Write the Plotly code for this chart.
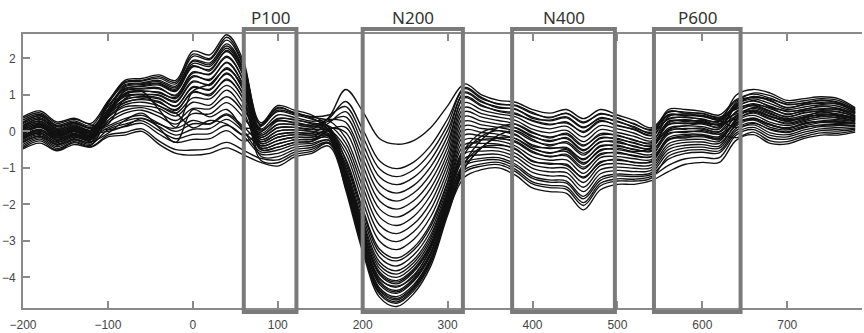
import plotly.graph_objects as go

# time axis (ms)
time_ms = [-200, -180, -160, -140, -120, -100, -80, -60, -40, -20, 0, 20, 40, 60,
           80, 100, 120, 140, 160, 180, 200, 220, 240, 260, 280, 300,
           320, 340, 360, 380, 400, 420, 440, 460, 480, 500, 520, 540,
           560, 580, 600, 620, 640, 660, 680, 700, 720, 740, 760, 780]

# channel amplitudes (microvolts)
ch01 = [-0.03,0.15,-0.13,0.03,-0.1, 0.75,1.4,1.45,1.55,1.4,2.2,2.1,2.65,1.9, -0.16,0.1,0.11,0.06, 0.38, 1.15,0.55,-0.2,-0.35,-0.25,0.1,0.7, 1.3,1.0,0.85,0.8,0.6,0.5,0.6,0.35,0.6,0.45,0.3,0.1, 0.52,0.53,0.48,0.39, 0.61,0.76,0.62,0.48,0.56,0.62,0.59,0.44]
ch02 = [0.07,0.24,-0.04,0.1,-0.03, 0.8,1.33,1.38,1.46,1.3,2.06,1.97,2.5,1.77, -0.05,0.28,0.25,0.17, 0.35, 0.82,0.06,-0.81,-1.02,-0.84,-0.39,0.34, 1.17,0.9,0.76,0.7,0.49,0.39,0.49,0.23,0.49,0.36,0.21,0.03, 0.43,0.45,0.41,0.32, 0.74,0.89,0.76,0.6,0.67,0.73,0.69,0.51]
ch03 = [-0.12,0.06,-0.21,-0.05,-0.17, 0.6,1.25,1.31,1.36,1.2,1.92,1.83,2.34,1.65, -0.28,-0.08,-0.03,-0.05, 0.23, 0.54,-0.34,-1.25,-1.46,-1.26,-0.78,0.03, 1.05,0.8,0.67,0.6,0.39,0.29,0.37,0.1,0.38,0.26,0.13,-0.05, 0.6,0.6,0.55,0.45, 0.87,1.02,0.91,0.73,0.79,0.84,0.8,0.58]
ch04 = [0.17,0.33,0.05,0.18,0.04, 0.7,1.18,1.23,1.27,1.1,1.77,1.7,2.19,1.52, 0.07,0.45,0.38,0.28, 0.33, 0.25,-0.73,-1.69,-1.91,-1.69,-1.17,-0.29, 0.92,0.69,0.57,0.5,0.28,0.18,0.26,-0.03,0.27,0.17,0.04,-0.12, 0.35,0.38,0.34,0.26, 1.0,1.15,1.05,0.85,0.9,0.95,0.9,0.65]
ch05 = [-0.22,-0.03,-0.3,-0.13,-0.24, 0.5,1.1,1.16,1.17,1.0,1.63,1.56,2.03,1.39, -0.39,-0.25,-0.16,-0.16, 0.08, -0.03,-1.13,-2.13,-2.35,-2.11,-1.56,-0.6, 0.79,0.59,0.48,0.4,0.17,0.07,0.14,-0.15,0.16,0.07,-0.05,-0.19, 0.46,0.42,0.44,0.3, 0.48,0.63,0.47,0.35,0.44,0.51,0.48,0.37]
ch06 = [0.26,0.42,0.13,0.25,0.11, 0.6,1.03,1.09,1.08,0.9,1.49,1.43,1.88,1.26, 0.19,0.63,0.52,0.39, 0.3, -0.18,-1.33,-2.35,-2.58,-2.33,-1.75,-0.75, 0.66,0.49,0.39,0.3,0.06,-0.04,0.03,-0.28,0.05,-0.03,-0.14,-0.26, 0.26,0.3,0.27,0.19, 0.35,0.5,0.33,0.23,0.33,0.4,0.38,0.3]
ch07 = [0.02,0.2,-0.08,0.06,-0.07, 0.55,0.95,1.02,0.98,0.8,1.35,1.29,1.72,1.14, -0.1,0.19,0.18,0.12, 0.15, -0.32,-1.52,-2.57,-2.8,-2.54,-1.95,-0.9, 0.54,0.39,0.3,0.2,-0.05,-0.15,-0.09,-0.4,-0.06,-0.12,-0.23,-0.34, 0.18,0.23,0.2,0.13, 0.68,0.83,0.69,0.54,0.61,0.68,0.64,0.48]
ch08 = [-0.07,0.11,-0.17,-0.01,-0.14, 0.5,0.88,0.94,0.89,0.7,1.2,1.16,1.57,1.01, -0.22,0.01,0.04,0.0, 0.05, -0.46,-1.72,-2.79,-3.02,-2.75,-2.14,-1.06, 0.41,0.28,0.2,0.1,-0.15,-0.25,-0.2,-0.53,-0.17,-0.22,-0.31,-0.41, 0.09,0.15,0.13,0.06, 0.7,0.96,0.83,0.66,0.73,0.79,0.74,0.55]
ch09 = [0.12,0.29,0.0,0.14,0.0, 0.45,0.8,0.87,0.79,0.6,1.06,1.02,1.41,0.88, -0.33,-0.16,-0.09,-0.1, 0.0, -0.6,-1.92,-3.01,-3.24,-2.96,-2.34,-1.22, 0.28,0.18,0.11,0.0,-0.26,-0.36,-0.32,-0.65,-0.28,-0.31,-0.4,-0.48, 0.28,0.27,0.3,0.17, 0.42,0.57,0.4,0.29,0.38,0.46,0.43,0.34]
ch10 = [-0.17,0.02,-0.25,-0.09,-0.2, 0.4,0.73,0.8,0.7,0.5,0.92,0.89,1.26,0.75, -0.45,-0.34,-0.23,-0.22, -0.08, -0.75,-2.12,-3.23,-3.47,-3.18,-2.53,-1.37, 0.15,0.08,0.02,-0.1,-0.37,-0.47,-0.44,-0.78,-0.39,-0.41,-0.49,-0.55, 0.0,0.08,0.06,0.0, 0.55,0.7,0.54,0.41,0.5,0.57,0.53,0.41]
ch11 = [0.36,0.51,0.22,0.33,0.18, 0.05,0.15,0.35,0.2,0.1,1.1,1.3,1.7,1.2, 0.01,0.36,0.31,0.23, 0.12, -0.8,-2.19,-3.32,-3.55,-3.26,-2.61,-1.43, 0.03,-0.03,-0.08,-0.2,-0.48,-0.58,-0.55,-0.9,-0.5,-0.5,-0.58,-0.63, -0.08,0.0,-0.01,-0.07, 0.22,0.37,0.18,0.1,0.21,0.29,0.27,0.23]
ch12 = [-0.31,-0.12,-0.38,-0.2,-0.31, 0.3,0.58,0.65,0.51,0.3,0.63,0.62,0.95,0.5, -0.5,-0.43,-0.3,-0.27, -0.13, -0.89,-2.31,-3.45,-3.69,-3.39,-2.73,-1.53, -0.1,-0.13,-0.17,-0.3,-0.58,-0.68,-0.67,-1.03,-0.61,-0.6,-0.66,-0.7, -0.22,-0.12,-0.1,-0.18, 0.32,0.53,0.35,0.2,0.3,0.42,0.36,0.29]
ch13 = [0.0,0.12,-0.1,0.05,-0.08, 0.25,0.5,0.58,0.41,0.2,0.49,0.48,0.79,0.37, -0.16,0.1,0.11,0.06, 0.01, -0.97,-2.43,-3.58,-3.82,-3.52,-2.84,-1.62, -0.23,-0.23,-0.26,-0.4,-0.69,-0.79,-0.78,-1.15,-0.72,-0.69,-0.75,-0.77, -0.17,-0.08,-0.08,-0.14, 0.44,0.55,0.42,0.31,0.36,0.48,0.41,0.35]
ch14 = [0.21,0.38,0.09,0.21,0.08, 0.2,0.9,1.0,0.7,0.5,0.1,0.3,0.2,-0.1, 0.13,0.54,0.45,0.34, 0.13, -1.03,-2.51,-3.67,-3.91,-3.6,-2.92,-1.68, -0.36,-0.33,-0.35,-0.5,-0.8,-0.9,-0.9,-1.28,-0.83,-0.79,-0.84,-0.84, -0.25,-0.15,-0.15,-0.2, 0.29,0.44,0.25,0.16,0.27,0.35,0.32,0.27]
ch15 = [0.1,0.22,-0.02,0.08,0.0, 0.15,0.35,0.44,0.22,0.0,0.21,0.21,0.48,0.12, -0.28,-0.08,-0.03,-0.05, -0.06, -1.09,-2.59,-3.76,-4.0,-3.69,-3.0,-1.74, -0.49,-0.44,-0.45,-0.6,-0.91,-1.0,-1.01,-1.4,-0.94,-0.88,-0.93,-0.92, -0.34,-0.23,-0.22,-0.27, 0.35,0.66,0.5,0.33,0.4,0.54,0.45,0.38]
ch16 = [-0.15,0.04,-0.18,-0.07,-0.15, 0.1,0.28,0.36,0.13,-0.1,0.06,0.08,0.33,-0.01, -0.39,-0.25,-0.16,-0.16, -0.13, -1.17,-2.71,-3.89,-4.13,-3.81,-3.12,-1.84, -0.61,-0.54,-0.54,-0.7,-1.01,-1.11,-1.13,-1.53,-1.05,-0.98,-1.01,-0.99, -0.42,-0.3,-0.29,-0.33, 0.16,0.31,0.11,0.04,0.15,0.24,0.22,0.2]
ch17 = [-0.36,-0.17,-0.42,-0.24,-0.35, 0.05,0.2,0.29,0.03,-0.2,-0.08,-0.06,0.17,-0.14, -0.62,-0.6,-0.43,-0.38, -0.24, -1.26,-2.83,-4.02,-4.27,-3.94,-3.23,-1.93, -0.74,-0.64,-0.63,-0.8,-1.12,-1.22,-1.24,-1.65,-1.16,-1.07,-1.1,-1.06, -0.5,-0.38,-0.36,-0.4, 0.2,0.33,0.17,0.08,0.2,0.27,0.25,0.22]
ch18 = [0.05,0.18,-0.06,0.04,-0.05, 0.0,0.13,0.22,-0.07,-0.3,-0.22,-0.2,0.02,-0.27, -0.02,0.3,0.22,0.15, 0.0, -1.32,-2.9,-4.11,-4.36,-4.03,-3.31,-1.99, -0.87,-0.74,-0.72,-0.9,-1.23,-1.33,-1.36,-1.78,-1.27,-1.17,-1.19,-1.13, -0.59,-0.45,-0.43,-0.46, 0.09,0.24,0.04,-0.03,0.1,0.18,0.17,0.16]
ch19 = [-0.26,-0.08,-0.34,-0.16,-0.28, -0.05,0.3,0.5,0.1,-0.3,0.6,0.4,0.6,0.0, -0.56,-0.51,-0.36,-0.33, -0.24, -1.37,-2.98,-4.2,-4.44,-4.11,-3.39,-2.05, -0.94,-0.8,-0.78,-0.96,-1.29,-1.39,-1.42,-1.85,-1.34,-1.22,-1.24,-1.18, -0.76,-0.6,-0.57,-0.59, -0.04,0.11,-0.11,-0.15,-0.02,0.07,0.06,0.09]
ch20 = [-0.45,-0.26,-0.51,-0.31,-0.42, -0.1,-0.03,0.07,-0.26,-0.5,-0.51,-0.47,-0.3,-0.52, -0.74,-0.78,-0.57,-0.49, -0.33, -1.46,-3.1,-4.33,-4.58,-4.24,-3.5,-2.15, -1.05,-0.89,-0.85,-1.04,-1.38,-1.48,-1.52,-1.95,-1.42,-1.3,-1.31,-1.23, -0.93,-0.75,-0.71,-0.72, -0.1,0.05,-0.18,-0.21,-0.08,0.02,0.01,0.06]
ch21 = [-0.48,-0.32,-0.53,-0.36,-0.43, -0.15,-0.1,0.0,-0.35,-0.6,-0.65,-0.6,-0.45,-0.65, -0.85,-0.95,-0.7,-0.6, -0.4, -1.54,-3.22,-4.46,-4.71,-4.37,-3.62,-2.24, -1.25,-1.05,-1.0,-1.2,-1.55,-1.65,-1.7,-2.15,-1.6,-1.45,-1.45,-1.35, -1.1,-0.9,-0.85,-0.85, -0.24,-0.09,-0.33,-0.34,-0.19,-0.1,-0.1,-0.02]
ch22 = [0.31,0.47,0.17,0.29,0.15, 0.78,1.28,1.33,1.4,1.24,1.95,1.88,2.4,1.7, 0.24,0.71,0.58,0.45, 0.1, -1.49,-3.14,-4.37,-4.62,-4.28,-3.54,-2.18, -1.0,-0.45,-0.1,0.02,-0.22,-0.4,-0.28,-0.6,-0.3,-0.27,-0.42,-0.45, 0.2,0.21,0.24,0.1, 0.75,0.95,0.88,0.75,0.77,0.86,0.78,0.6]
ch23 = [0.15,0.35,0.07,0.16,0.02, 0.68,1.15,1.25,1.3,1.12,1.8,1.66,2.22,1.5, -0.22,0.01,0.04,0.0, -0.13, -1.6,-3.3,-4.55,-4.8,-4.45,-3.7,-2.3, -1.12,-0.95,-0.91,-1.1,-1.44,-1.54,-1.59,-2.03,-1.49,-1.36,-1.36,-1.28, -0.68,-0.53,-0.5,-0.53, 0.03,0.18,-0.04,-0.09,0.04,0.13,0.11,0.13]
ch24 = [-0.2,-0.05,-0.28,-0.12,-0.22, 0.45,1.05,1.12,1.05,0.93,1.52,1.4,1.9,1.22, -0.68,-0.69,-0.5,-0.44, -0.3, -1.43,-3.06,-4.29,-4.53,-4.2,-3.47,-2.11, -1.0,-0.44,-0.17,-0.2,-0.45,-0.6,-0.5,-0.86,-0.53,-0.46,-0.55,-0.45, 0.05,0.15,0.22,0.2, 0.8,1.05,0.98,0.79,0.84,0.9,0.85,0.62]
ch25 = [0.4,0.56,0.26,0.36,0.22, 0.83,1.36,1.4,1.5,1.35,2.12,2.0,2.58,1.82, 0.16,0.58,0.48,0.36, 0.04, -1.51,-3.18,-4.42,-4.67,-4.32,-3.58,-2.21, -0.87,-0.23,0.11,0.2,-0.02,-0.18,-0.05,-0.37,-0.1,-0.1,-0.25,-0.3, 0.4,0.48,0.42,0.35, 0.63,0.73,0.65,0.46,0.58,0.6,0.61,0.42]
ch26 = [-0.09,0.13,-0.15,0.0,-0.12, 0.48,0.78,0.9,0.82,0.57,1.1,0.98,1.44,0.85, -0.79,-0.86,-0.63,-0.55, -0.32, -1.22,-2.86,-4.05,-4.24,-3.98,-3.2,-1.9, -0.61,-0.13,0.02,-0.08,-0.4,-0.45,-0.47,-0.75,-0.42,-0.38,-0.5,-0.52, -0.05,-0.03,0.02,-0.09, -0.17,-0.02,-0.26,-0.28,-0.14,-0.04,-0.05,0.02]
ch27 = [-0.41,-0.21,-0.47,-0.28,-0.38, 0.4,1.12,1.18,1.2,0.97,1.6,1.58,2.06,1.36, -0.5,-0.43,-0.3,-0.27, 0.05, 0.11,-0.93,-1.91,-2.13,-1.9,-1.36,-0.44, 0.95,0.72,0.55,0.47,0.3,0.2,0.23,0.0,0.3,0.15,0.06,-0.1, 0.55,0.5,0.5,0.37, 0.84,0.93,0.85,0.64,0.75,0.77,0.76,0.53]
ch28 = [0.14,0.27,0.02,0.12,-0.02, 0.53,0.98,1.0,1.0,0.83,1.38,1.26,1.75,1.1, -0.33,-0.16,-0.09,-0.1, -0.1, -1.14,-2.67,-3.85,-4.09,-3.77,-3.08,-1.8, -0.49,-0.23,-0.2,-0.27,-0.55,-0.7,-0.63,-0.98,-0.64,-0.57,-0.68,-0.68, 0.03,0.06,0.09,-0.02, 0.4,0.59,0.42,0.27,0.4,0.44,0.45,0.32]
ch29 = [-0.05,0.17,-0.11,0.01,-0.12, 0.38,0.67,0.7,0.63,0.42,0.8,0.72,1.13,0.6, -0.1,0.19,0.18,0.12, 0.28, 0.4,-0.53,-1.47,-1.69,-1.48,-0.97,-0.13, 1.08,0.83,0.64,0.62,0.36,0.31,0.4,0.12,0.35,0.28,0.1,-0.02, 0.33,0.4,0.32,0.28, 0.66,0.85,0.67,0.56,0.6,0.7,0.62,0.5]
ch30 = [-0.19,0.0,-0.23,-0.1,-0.18, 0.5,1.22,1.28,1.32,1.16,1.86,1.78,2.28,1.59, -0.45,-0.34,-0.23,-0.22, -0.18, -1.34,-2.94,-4.15,-4.4,-4.07,-3.35,-2.02, -0.87,-0.44,-0.38,-0.47,-0.83,-0.87,-0.94,-1.25,-0.86,-0.76,-0.86,-0.81, -0.22,-0.18,-0.12,-0.23, 0.25,0.35,0.2,0.08,0.23,0.27,0.29,0.21]
ch31 = [0.24,0.44,0.15,0.23,0.09, 0.52,0.86,0.96,0.92,0.68,1.23,1.13,1.6,0.98, 0.04,0.34,0.33,0.2, 0.05, -1.2,-2.75,-3.93,-4.18,-3.85,-3.15,-1.87, -0.49,-0.03,0.11,0.1,-0.12,-0.28,-0.17,-0.5,-0.2,-0.19,-0.33,-0.38, 0.24,0.32,0.25,0.21, 0.52,0.72,0.56,0.39,0.52,0.55,0.55,0.4]
ch32 = [-0.29,-0.14,-0.36,-0.22,-0.29, 0.5,1.0,1.1,0.6,0.1,0.3,0.2,0.45,0.1, 0.17,0.66,0.5,0.41, 0.45, 0.68,-0.14,-1.03,-1.24,-1.05,-0.58,0.18, 1.2,0.93,0.74,0.72,0.52,0.37,0.5,0.26,0.47,0.38,0.19,0.06, 0.45,0.44,0.43,0.3, 0.11,0.22,0.06,-0.01,0.12,0.16,0.19,0.14]

channels = [ch01, ch02, ch03, ch04, ch05, ch06, ch07, ch08, ch09, ch10, ch11, ch12,
            ch13, ch14, ch15, ch16, ch17, ch18, ch19, ch20, ch21, ch22, ch23, ch24,
            ch25, ch26, ch27, ch28, ch29, ch30, ch31, ch32]

# analysis windows (ms)
window_names = ["P100", "N200", "N400", "P600"]
window_start = [60, 200, 376, 543]
window_end = [122, 318, 497, 645]

x_ticks = [-200, -100, 0, 100, 200, 300, 400, 500, 600, 700]
y_ticks = [-4, -3, -2, -1, 0, 1, 2]

fig = go.Figure()
for ch in channels:
    fig.add_trace(go.Scatter(
        x=time_ms, y=ch, mode="lines",
        line=dict(color="#111111", width=1.35, shape="spline", smoothing=1.0),
        hoverinfo="skip", showlegend=False))

axis_gray = "#8a8a8a"
tick_font = dict(family="Liberation Sans, Arial, sans-serif", size=12, color="#454545")

fig.update_layout(
    width=864, height=333,
    margin=dict(l=23, r=2, t=34, b=25),
    paper_bgcolor="white", plot_bgcolor="white",
    showlegend=False,
    xaxis=dict(range=[-200, 788], tickvals=x_ticks, ticks="inside", ticklen=7,
               tickwidth=1.5, tickcolor=axis_gray, showline=True, linecolor=axis_gray,
               linewidth=2, mirror="ticks", showgrid=False, zeroline=False,
               tickfont=tick_font, ticklabelstandoff=5),
    yaxis=dict(range=[-4.84, 2.67], tickvals=y_ticks, ticks="inside", ticklen=7,
               tickwidth=1.5, tickcolor=axis_gray, showline=True, linecolor=axis_gray,
               linewidth=2, mirror=False, showgrid=False, zeroline=False,
               tickfont=tick_font, ticklabelstandoff=3),
    yaxis2=dict(range=[-4.84, 2.67], tickvals=y_ticks, ticks="inside", ticklen=4,
                tickwidth=1.5, tickcolor=axis_gray, showline=False, showgrid=False,
                zeroline=False, showticklabels=False, overlaying="y", side="right"),
)

for name, t0, t1 in zip(window_names, window_start, window_end):
    fig.add_shape(type="rect", xref="x", yref="paper", x0=t0, x1=t1, y0=-0.015, y1=1.018,
                  line=dict(color="#7a7a7a", width=4), fillcolor="rgba(0,0,0,0)", layer="above")
    fig.add_annotation(x=(t0 + t1) / 2, y=1.06, xref="x", yref="paper", text=name,
                       showarrow=False, yanchor="middle",
                       font=dict(family="Noto Sans, sans-serif", size=17, color="#333333"))

fig.write_html("out.html", config={"displayModeBar": False},
               post_script="document.body.style.margin='0';document.body.style.overflow='hidden';")
